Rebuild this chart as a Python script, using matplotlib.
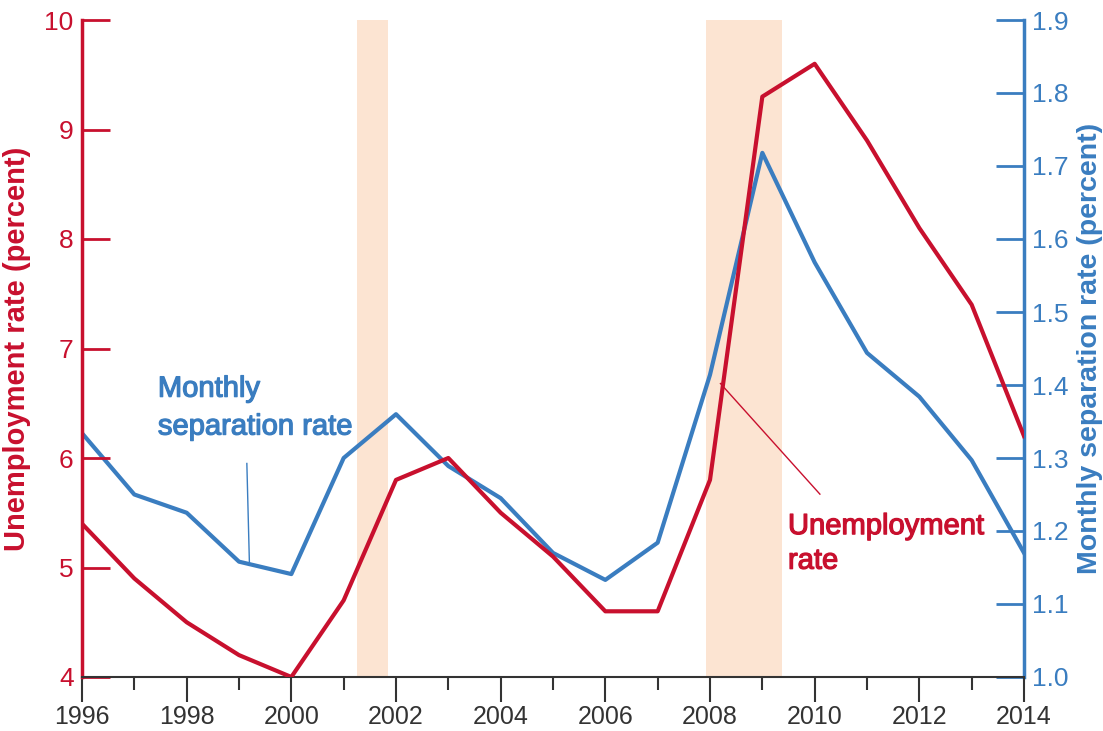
import matplotlib
matplotlib.use("Agg")
import matplotlib.pyplot as plt
import matplotlib.patheffects as pe
from matplotlib.ticker import MultipleLocator, FormatStrFormatter
from matplotlib import font_manager

fams = {f.name for f in font_manager.fontManager.ttflist}
FONT = "Liberation Sans Narrow" if "Liberation Sans Narrow" in fams else "Liberation Sans"
plt.rcParams['font.family'] = [FONT, 'DejaVu Sans']

years = list(range(1996, 2015))
unemployment = [5.4, 4.9, 4.5, 4.2, 4.0, 4.7, 5.8, 6.0, 5.5, 5.1, 4.6, 4.6, 5.8, 9.3, 9.6, 8.9, 8.1, 7.4, 6.2]
separation = [1.334, 1.25, 1.225, 1.158, 1.141, 1.30, 1.36, 1.289, 1.245, 1.17, 1.133, 1.184, 1.414, 1.718, 1.568, 1.444, 1.384, 1.297, 1.17]
recessions = [(2001.25, 2001.85), (2007.92, 2009.38)]

RED = "#C8102E"
BLUE = "#3A7DC0"
SHADE = "#FCE4D2"

fig = plt.figure(figsize=(11.03, 7.31), dpi=100)
ax = fig.add_axes([82/1103, 1-677/731, (1024-82)/1103, (677-20)/731])
ax2 = ax.twinx()

for a, b in recessions:
    ax2.axvspan(a, b, color=SHADE, lw=0, zorder=0)

ax2.plot(years, separation, color=BLUE, lw=3, zorder=3)
ax.plot(years, unemployment, color=RED, lw=3, zorder=3)
ax.set_zorder(ax2.get_zorder()+1)
ax.patch.set_visible(False)

ax.set_xlim(1996, 2014)
ax.set_ylim(4, 10)
ax2.set_ylim(1.0, 1.9)

ax.xaxis.set_major_locator(MultipleLocator(2))
ax.xaxis.set_minor_locator(MultipleLocator(1))
ax.yaxis.set_major_locator(MultipleLocator(1))
ax2.yaxis.set_major_locator(MultipleLocator(0.1))
ax2.yaxis.set_major_formatter(FormatStrFormatter('%.1f'))

for a in (ax, ax2):
    a.spines['top'].set_visible(False)
ax.spines['left'].set_color(RED)
ax.spines['left'].set_linewidth(2.5)
ax.spines['right'].set_visible(False)
ax2.spines['left'].set_visible(False)
ax2.spines['bottom'].set_visible(False)
ax2.spines['right'].set_color(BLUE)
ax2.spines['right'].set_linewidth(2.5)
ax.spines['bottom'].set_color("#333333")
ax.spines['bottom'].set_linewidth(1.5)

ax.tick_params(axis='y', direction='in', length=20, width=2, color=RED, labelcolor=RED, labelsize=19, pad=6)
ax2.tick_params(axis='y', direction='in', length=20, width=2, color=BLUE, labelcolor=BLUE, labelsize=19, pad=6)
ax.tick_params(axis='x', which='major', direction='out', length=18, width=1.5, color="#333333", labelcolor="#333333", labelsize=18, pad=2)
ax.tick_params(axis='x', which='minor', direction='out', length=9, width=1.5, color="#333333")

ax.set_ylabel("Unemployment rate (percent)", color=RED, fontsize=21, fontweight='bold', labelpad=10)
ax2.set_ylabel("Monthly separation rate (percent)", color=BLUE, fontsize=20.5, fontweight='bold', labelpad=6)

ax.text(1997.45, 6.46, "Monthly\nseparation rate", color=BLUE, fontsize=21, ha='left', va='center', linespacing=1.45,
        path_effects=[pe.withStroke(linewidth=0.9, foreground=BLUE)])
ax.plot([1999.15, 1999.2], [5.95, 5.02], color=BLUE, lw=1)
ax.text(2009.49, 5.22, "Unemployment\nrate", color=RED, fontsize=21, ha='left', va='center', linespacing=1.3,
        path_effects=[pe.withStroke(linewidth=0.9, foreground=RED)])
ax.plot([2010.1, 2008.2], [5.67, 6.68], color=RED, lw=1)

fig.savefig("out.png", dpi=100)
